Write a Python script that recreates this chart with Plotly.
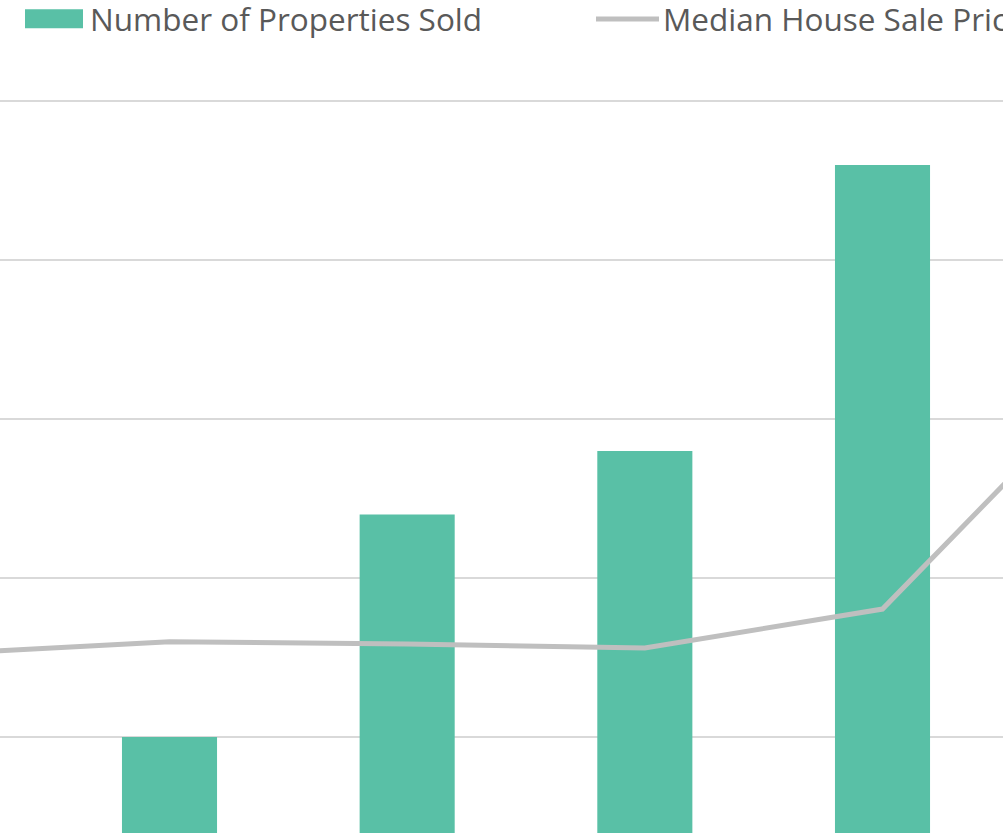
import plotly.graph_objects as go

# Data
years = ["2013", "2014", "2015", "2016", "2017", "2018"]
properties_sold = [30, 50, 120, 140, 230, 260]
median_price = [152000, 160000, 158500, 156000, 180500, 334000]

bar_color = "#59C0A6"
line_color = "#BFBFBF"
text_color = "#595959"
W, H = 1003, 833

fig = go.Figure()
fig.add_trace(go.Bar(
    x=years, y=properties_sold, name="Number of Properties Sold",
    marker=dict(color=bar_color, line=dict(width=0)), width=0.40,
))
fig.add_trace(go.Scatter(
    x=years, y=median_price, name="Median House Sale Price", yaxis="y2",
    mode="lines", line=dict(color=line_color, width=5),
))

# pixel-based legend mimic
def px(x):
    return x / W

def py(y):
    return 1 - y / H

fig.add_shape(type="rect", xref="paper", yref="paper",
              x0=px(25), x1=px(83), y0=py(28.3), y1=py(9.3),
              fillcolor=bar_color, line=dict(width=0))
fig.add_shape(type="line", xref="paper", yref="paper",
              x0=px(596), x1=px(659), y0=py(19), y1=py(19),
              line=dict(color=line_color, width=5))
fig.add_annotation(text="Number of Properties Sold", xref="paper", yref="paper",
                   x=px(88), y=py(19), xanchor="left", yanchor="middle",
                   showarrow=False, font=dict(family="Open Sans", size=31.5, color=text_color))
fig.add_annotation(text="Median House Sale Price", xref="paper", yref="paper",
                   x=px(661), y=py(19), xanchor="left", yanchor="middle",
                   showarrow=False, font=dict(family="Open Sans", size=31.5, color=text_color))

fig.update_layout(
    width=W, height=H,
    margin=dict(l=0, r=0, t=0, b=0),
    paper_bgcolor="white", plot_bgcolor="white",
    showlegend=False,
    xaxis=dict(type="category", range=[0.2868, 4.507], showgrid=False,
               showticklabels=False, showline=False, zeroline=False, ticks=""),
    yaxis=dict(range=[19.79, 281.9], dtick=50, tick0=0, showgrid=True,
               gridcolor="#D9D9D9", gridwidth=2, showticklabels=False,
               zeroline=False, showline=False, ticks=""),
    yaxis2=dict(range=[39580, 563800], overlaying="y", side="right",
                showgrid=False, showticklabels=False, zeroline=False,
                showline=False, ticks=""),
)

fig.write_html(
    "out.html",
    config={"displayModeBar": False},
    post_script="document.body.style.margin='0';document.body.style.overflow='hidden';",
)
